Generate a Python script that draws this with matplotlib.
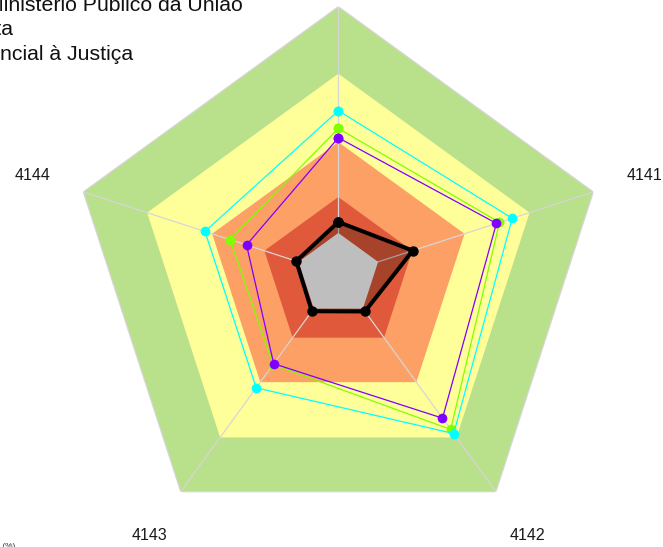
import numpy as np
import matplotlib
matplotlib.use('Agg')
import matplotlib.pyplot as plt

plt.rcParams['font.family'] = ['Liberation Sans', 'DejaVu Sans']

# eixos do radar (o do topo fica fora da área visível)
axes_labels = ['4140', '4141', '4142', '4143', '4144']

# faixas de referência (escala 0-100)
band_levels = [100, 75, 49.5, 29, 15.6]
band_colors = ['#B9E08B', '#FFFF99', '#FCA066', '#E0593A', '#BEBEBE']

# séries
serie_preta = [19.7, 29.2, 16.9, 16.8, 16.5]
serie_verde = [54.6, 63.2, 71.3, 41.4, 42.5]
serie_ciano = [61.2, 68.2, 73.2, 52.1, 52.3]
serie_roxa = [51.1, 62.0, 66.1, 41.0, 36.0]

n = len(axes_labels)
theta = np.linspace(0, 2 * np.pi, n, endpoint=False)
theta_c = np.append(theta, theta[0])


def fechar(v):
    return list(v) + [v[0]]


fig = plt.figure(figsize=(6.63, 5.47), dpi=100)
ax = fig.add_axes([0.1059, 0.0075, 0.8088, 0.9803], projection='polar')
ax.set_theta_offset(np.pi / 2)
ax.set_theta_direction(-1)
ax.set_ylim(0, 100)
ax.axis('off')

# faixas coloridas, da maior para a menor (sem o miolo cinza)
for lvl, col in zip(band_levels[:-1], band_colors[:-1]):
    ax.fill(theta_c, [lvl] * (n + 1), color=col, lw=0, zorder=1)

# raios e contorno externo
for t in theta:
    ax.plot([t, t], [0, 100], color='#D6D6D6', lw=0.9, zorder=2)
ax.plot(theta_c, [100] * (n + 1), color='#D6D6D6', lw=0.9, zorder=2)

# preenchimento da série preta
ax.fill(theta_c, fechar(serie_preta), color='black', alpha=0.25, lw=0, zorder=3)

# miolo cinza
ax.fill(theta_c, [band_levels[-1]] * (n + 1), color=band_colors[-1], lw=0, zorder=4)

# séries finas
for vals, col in [(serie_verde, '#80FF00'), (serie_ciano, '#00FFFF'), (serie_roxa, '#8000FF')]:
    ax.plot(theta_c, fechar(vals), color=col, lw=0.9, marker='o', ms=7,
            markeredgewidth=0, zorder=5)

ax.plot(theta_c, fechar(serie_preta), color='black', lw=2.9, marker='o', ms=7.5,
        markeredgewidth=0, zorder=6)

# rótulos dos eixos
for t, lab in zip(theta, axes_labels):
    ax.text(t, 120, lab, ha='center', va='center', fontsize=11.5, color='#1A1A1A')

# título (cortado à esquerda)
fig.text(243 / 663, 1 - 11 / 547, 'Ministério Público da União', ha='right',
         va='baseline', fontsize=15.3, color='#111111')
fig.text(13 / 663, 1 - 35 / 547, 'Administração Direta', ha='right',
         va='baseline', fontsize=15.3, color='#111111')
fig.text(133 / 663, 1 - 60 / 547, 'Função Essencial à Justiça', ha='right',
         va='baseline', fontsize=15.3, color='#111111')
fig.text(15 / 663, 4 / 547, 'Valores (%)', ha='right', va='top', fontsize=6,
         color='#333333')

fig.savefig('out.png', dpi=100)
